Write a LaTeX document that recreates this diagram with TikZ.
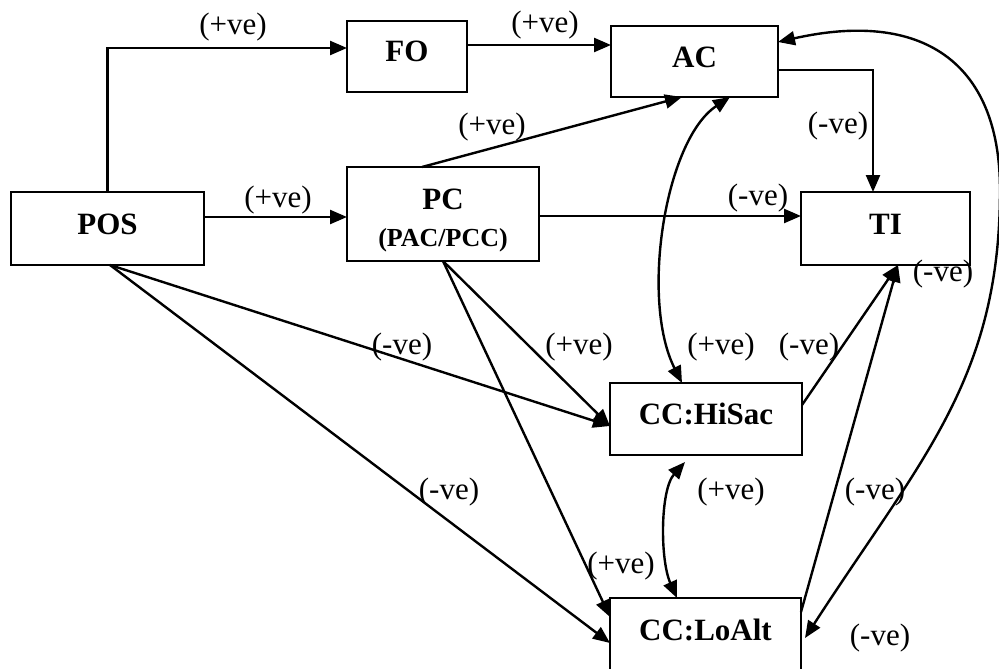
\documentclass[tikz,border=0pt]{standalone}
\usepackage{fontspec}
\setmainfont{Liberation Serif}
\usetikzlibrary{arrows.meta}
\begin{document}
\begin{tikzpicture}[x=1pt,y=-1pt,
  basebox/.style={draw, line width=2.4pt, inner sep=0pt, outer sep=0pt, font=\fontsize{31}{37}\selectfont\bfseries},
  box/.style={basebox, text height=21pt, text depth=10pt},
  lab/.style={font=\fontsize{31}{37}\selectfont, inner sep=0pt},
  arr/.style={line width=2.4pt, -{Triangle[length=17pt,width=14pt]}},
  darr/.style={line width=2.4pt, {Triangle[length=17pt,width=14pt]}-{Triangle[length=17pt,width=14pt]}}]
\useasboundingbox (0,0) rectangle (999,669);
% boxes
\node[box, minimum width=193pt, minimum height=73pt] (POS) at (107.5,228.5) {POS};
\node[box, minimum width=120pt, minimum height=71pt] (FO) at (407,56.5) {FO};
\node[basebox, minimum width=192pt, minimum height=94pt, align=center] (PC) at (443,214)
  {\fontsize{31}{40}\selectfont\rule{0pt}{33pt}PC\\{\fontsize{26}{40}\selectfont(PAC/PCC)}};
\node[box, minimum width=167pt, minimum height=71pt] (AC) at (694.5,61.5) {AC};
\node[box, minimum width=169pt, minimum height=73pt] (TI) at (885.5,228.5) {TI};
\node[box, minimum width=192pt, minimum height=72pt] (HiSac) at (706,419) {CC:HiSac};
\node[box, minimum width=191pt, minimum height=74pt] (LoAlt) at (705.5,635) {CC:LoAlt};
% connectors
\draw[arr] (POS.north) |- ([yshift=8.5pt]FO.west);
\coordinate (fo1) at ([yshift=11.5pt]FO.east);
\draw[arr] (fo1) -- (fo1 -| AC.west);
\coordinate (po1) at ([yshift=11.5pt]POS.east);
\draw[arr] (po1) -- (po1 -| PC.west);
\draw[arr] ([xshift=-21pt]PC.north) -- ([xshift=-12.5pt]AC.south);
\draw[darr] ([xshift=35.5pt]AC.south) .. controls (665,140) and (640,300) .. ([xshift=-24pt]HiSac.north);
\draw[arr] ([yshift=-8.5pt]AC.east) -| ([xshift=-12.5pt]TI.north);
\coordinate (pc1) at ([yshift=-2pt]PC.east);
\draw[arr] (pc1) -- (pc1 -| TI.west);
\draw[darr] ([yshift=19.5pt]AC.east) .. controls (920,10) and (1000,60) .. (1000,190)
  .. controls (1000,380) and (920,460) .. ([xshift=4pt,yshift=-3pt]LoAlt.east);
\draw[arr] ([xshift=2.5pt]POS.south) -- ([yshift=-7pt]HiSac.west);
\draw[arr] ([xshift=2.5pt]POS.south) -- ([yshift=-8pt]LoAlt.west);
\draw[arr] (PC.south) -- ([yshift=-7pt]HiSac.west);
\draw[arr] (PC.south) -- ([yshift=18pt]LoAlt.west);
\draw[darr] ([xshift=-21pt,yshift=-7pt]HiSac.south) .. controls (660,490) and (660,560) .. ([xshift=-28.5pt]LoAlt.north);
\draw[arr] ([yshift=14pt]HiSac.east) -- ([xshift=12.5pt]TI.south);
\draw[arr] ([yshift=23pt]LoAlt.east) -- ([xshift=12.5pt]TI.south);
% labels
\node[lab] (l1) at (233,27) {(+ve)};
\node[lab] (l2) at (545,25) {(+ve)};
\node[lab] (l3) at (278,200) {(+ve)};
\node[lab] (l4) at (492,127) {(+ve)};
\node[lab] (l5) at (838,126) {(-ve)};
\node[lab] (l6) at (758,198) {(-ve)};
\node[lab] (l7) at (943,274) {(-ve)};
\node[lab] (l8) at (402,347) {(-ve)};
\node[lab] (l9) at (449,492) {(-ve)};
\node[lab] (l10) at (579,347) {(+ve)};
\node[lab] (l11) at (721,347) {(+ve)};
\node[lab] (l12) at (809,347) {(-ve)};
\node[lab] (l13) at (731,492) {(+ve)};
\node[lab] (l14) at (875,492) {(-ve)};
\node[lab] (l15) at (621,566) {(+ve)};
\node[lab] (l16) at (880,638) {(-ve)};
\end{tikzpicture}
\end{document}
